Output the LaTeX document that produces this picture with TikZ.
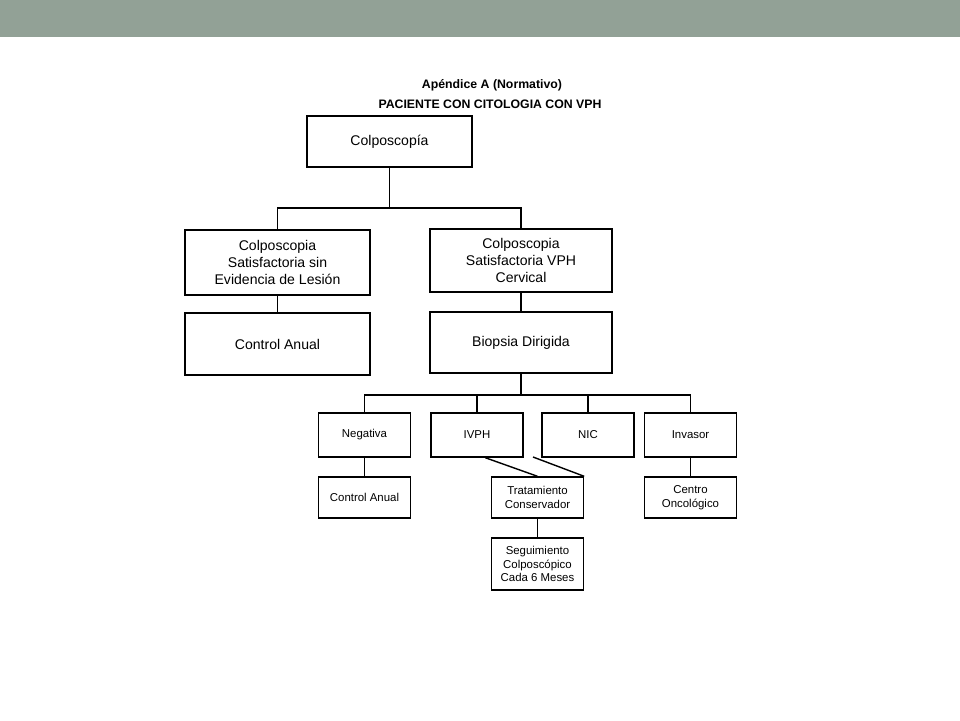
\documentclass[tikz,border=0pt]{standalone}
\usepackage{fontspec}
\setmainfont{Liberation Sans}
\definecolor{barra}{RGB}{146,161,150}

\begin{document}
\begin{tikzpicture}[x=0.02cm,y=-0.02cm,line width=0.8pt,
        caja/.style={draw,align=center,inner sep=1pt,font=\fontsize{8}{9.6}\selectfont},
        cajita/.style={draw,align=center,inner sep=1pt,minimum width=1.84cm,font=\fontsize{6.5}{7.8}\selectfont},
        titulo/.style={font=\bfseries\fontsize{7}{8.4}\selectfont}]
        \useasboundingbox (0,0) rectangle (960,720);
        \fill[barra] (0,0) rectangle (960,37);

        \node[titulo] (apendice) at (492,85) {Apéndice A (Normativo)};
        \node[titulo] (paciente) at (490,104) {PACIENTE CON CITOLOGIA CON VPH};

        \node[caja,minimum width=3.3cm,minimum height=1.02cm] (colpo) at (389.5,141.5) {Colposcopía};
        \node[caja,minimum width=3.7cm,minimum height=1.3cm] (sinlesion) at (277.5,262.5) {Colposcopia\\Satisfactoria sin\\Evidencia de Lesión};
        \node[caja,minimum width=3.64cm,minimum height=1.26cm] (vph) at (521,260.5) {Colposcopia\\Satisfactoria VPH\\Cervical};
        \node[caja,minimum width=3.7cm,minimum height=1.24cm] (anual) at (277.5,344) {Control Anual};
        \node[caja,minimum width=3.64cm,minimum height=1.22cm] (biopsia) at (521,342.5) {Biopsia Dirigida};

        \node[cajita,minimum height=0.88cm] (negativa) at (364.5,435) {Negativa};
        \node[cajita,minimum height=0.88cm] (ivph) at (477,435) {IVPH};
        \node[cajita,minimum height=0.88cm] (nic) at (588,435) {NIC};
        \node[cajita,minimum height=0.88cm] (invasor) at (690.5,435) {Invasor};
        \node[cajita,minimum height=0.82cm] (canual) at (364.5,497.5) {Control Anual};
        \node[cajita,minimum height=0.82cm] (trat) at (537.5,497.5) {Tratamiento\\Conservador};
        \node[cajita,minimum height=0.82cm] (centro) at (690.5,497.5) {Centro\\Oncológico};
        \node[cajita,minimum height=1.04cm] (seguimiento) at (537.5,564) {Seguimiento\\Colposcópico\\Cada 6 Meses};

        \coordinate (bus1) at (colpo.south |- 0,208);
        \coordinate (bus2) at (biopsia.south |- 0,395);
        \coordinate (nicpie) at (533,457);

        \draw (colpo.south) -- (bus1);
        \draw (sinlesion.north) |- (bus1) -| (vph.north);
        \draw (sinlesion) -- (anual);
        \draw (vph) -- (biopsia);
        \draw (biopsia.south) -- (bus2);
        \draw (negativa.north) |- (bus2) -| (invasor.north);
        \draw (ivph.north) |- (bus2);
        \draw (nic.north) |- (bus2);
        \draw (negativa) -- (canual);
        \draw (ivph.-70) -- (trat.north);
        \draw (nicpie) -- (trat.north east);
        \draw (trat) -- (seguimiento);
        \draw (invasor) -- (centro);
    \end{tikzpicture}
\end{document}
